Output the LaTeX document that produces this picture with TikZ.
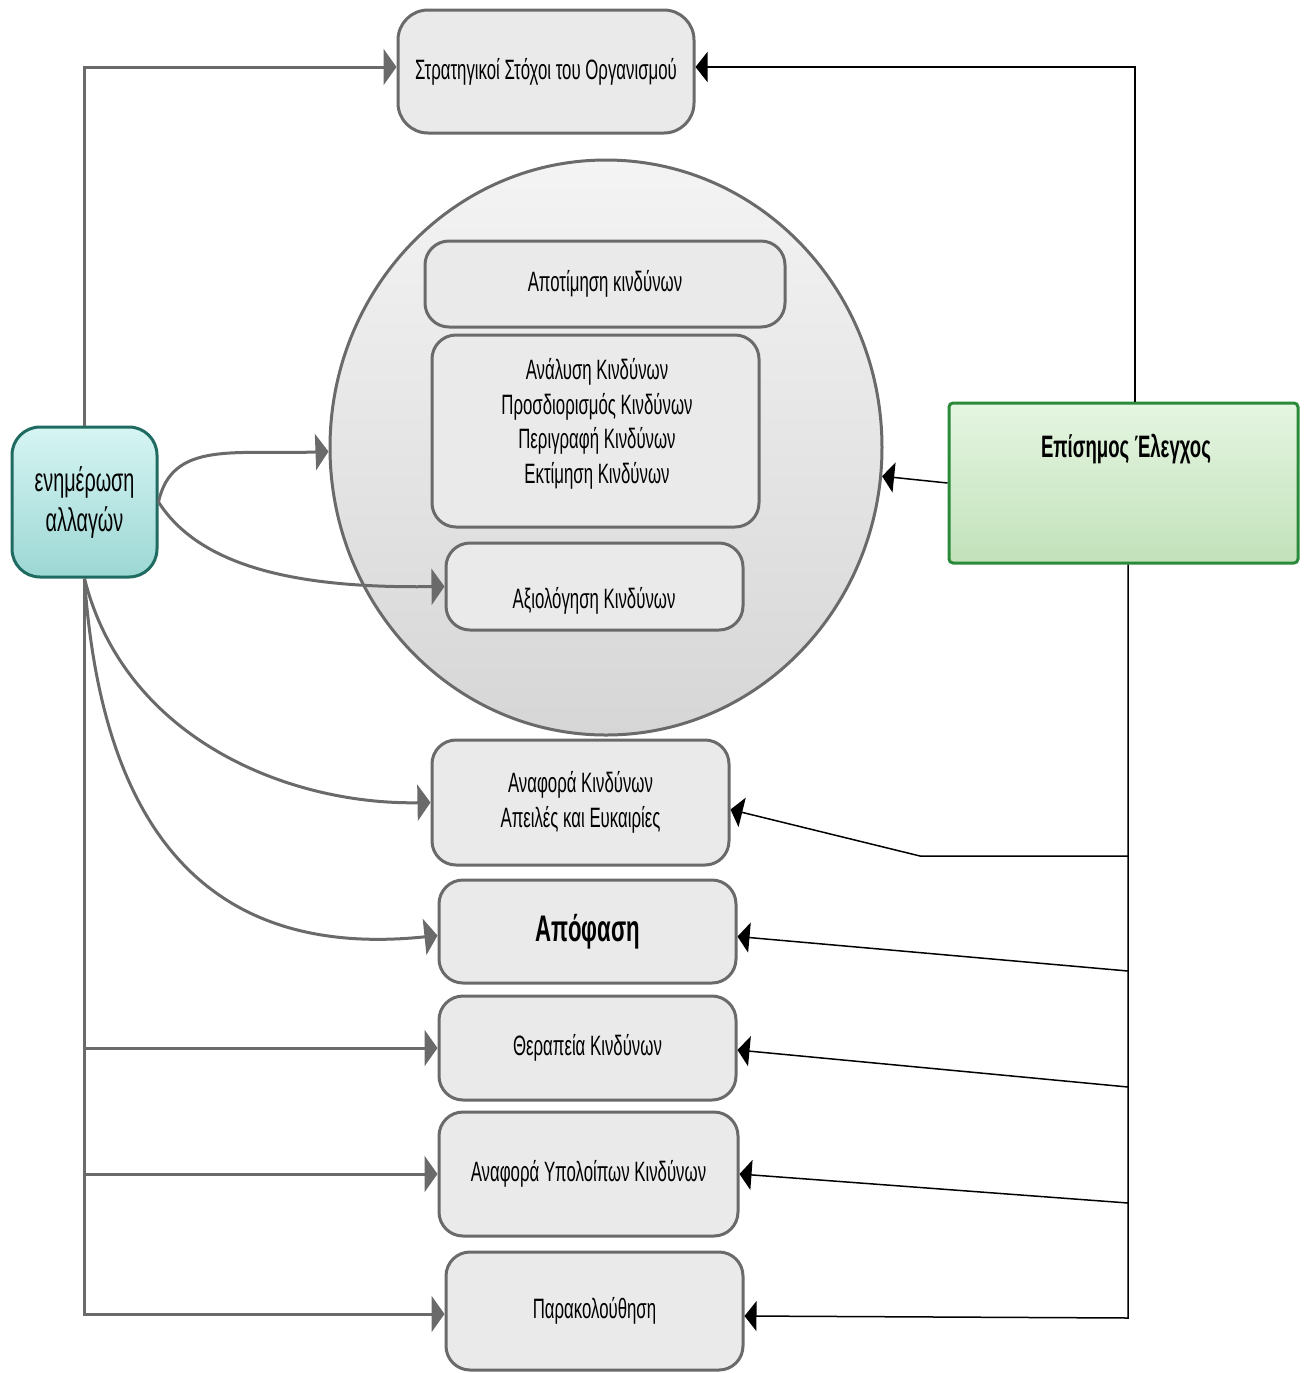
\documentclass[tikz,border=0pt]{standalone}
\usepackage{fontspec}
\setmainfont[FakeStretch=0.6]{Liberation Sans}
\usetikzlibrary{arrows.meta,shapes.geometric,calc}
\definecolor{boxfill}{HTML}{EAEAEA}
\definecolor{boxline}{HTML}{6A6A6A}
\definecolor{circtop}{HTML}{F4F4F4}
\definecolor{circbot}{HTML}{D6D6D6}
\definecolor{tealtop}{HTML}{D6F5F3}
\definecolor{tealbot}{HTML}{9CD7D4}
\definecolor{tealline}{HTML}{1F6B61}
\definecolor{greentop}{HTML}{E5F5E1}
\definecolor{greenbot}{HTML}{C2E2BA}
\definecolor{greenline}{HTML}{2A8A3A}
\begin{document}
\begin{tikzpicture}[x=0.5pt,y=-0.5pt,
  gbox/.style={draw=boxline, line width=1.5pt, fill=boxfill, rounded corners=12pt,
    align=center, font=\fontsize{14}{17.25}\selectfont, inner sep=0pt},
  txt/.style={align=center, font=\fontsize{14}{17.25}\selectfont, inner sep=0pt},
  garrow/.style={draw=boxline, line width=1.5pt, -{Triangle[length=6.5pt,width=18pt]}},
  barrow/.style={draw=black, line width=0.75pt, -{Triangle[length=6pt,width=15pt]}},
]
\useasboundingbox (0,0) rectangle (1307,1373);

% nodes
\node[gbox, rounded corners=15pt, minimum width=148pt, minimum height=61.5pt] (goals) at (546,71.5)
  {\raisebox{2pt}{Στρατηγικοί Στόχοι του Οργανισμού}};
\node[ellipse, draw=boxline, line width=1.5pt, top color=circtop, bottom color=circbot,
  minimum width=276pt, minimum height=287.5pt, inner sep=0pt] (circ) at (606,447.5) {};
\node[gbox, minimum width=180pt, minimum height=43pt] (assess) at (605,284) {Αποτίμηση κινδύνων};
\node[gbox, minimum width=163.5pt, minimum height=96pt] (analysis) at (595.5,431) {};
\node[txt] (analysistext) at (597,424) {Ανάλυση Κινδύνων\\Προσδιορισμός Κινδύνων\\Περιγραφή Κινδύνων\\Εκτίμηση Κινδύνων};
\node[gbox, minimum width=148.5pt, minimum height=43.5pt] (evaluate) at (594.5,586.5) {};
\node[txt] (evaltext) at (594,601) {Αξιολόγηση Κινδύνων};

\node[draw=tealline, line width=1.5pt, top color=tealtop, bottom color=tealbot, rounded corners=14pt,
  minimum width=72.5pt, minimum height=75pt, inner sep=0pt, align=center,
  font=\fontsize{16.5}{20}\selectfont] (update) at (84.5,502) {ενημέρωση\\αλλαγών};

\node[draw=greenline, line width=1.5pt, top color=greentop, bottom color=greenbot, rounded corners=2pt,
  minimum width=174.5pt, minimum height=80pt, inner sep=0pt] (control) at (1123.5,483) {};
\node[txt, font=\bfseries\fontsize{15.5}{18}\selectfont] (controltext) at (1126,449) {Επίσημος Έλεγχος};

\node[gbox, minimum width=148.5pt, minimum height=62.5pt] (report) at (580.5,802.5) {Αναφορά Κινδύνων\\Απειλές και Ευκαιρίες};
\node[gbox, minimum width=148.5pt, minimum height=51.5pt, font=\bfseries\fontsize{18.5}{22}\selectfont] (decision) at (587.5,931.5) {Απόφαση};
\node[gbox, minimum width=148.5pt, minimum height=52pt] (treat) at (587.5,1048) {Θεραπεία Κινδύνων};
\node[gbox, minimum width=149.5pt, minimum height=62pt] (residual) at (588.5,1174) {Αναφορά Υπολοίπων Κινδύνων};
\node[gbox, minimum width=148.5pt, minimum height=59pt] (monitor) at (594.5,1311) {Παρακολούθηση};

% gray connectors from update
\coordinate (gw) at ([yshift=2.25pt]goals.west);
\coordinate (ge) at ([yshift=2.25pt]goals.east);
\draw[garrow] (update.north) |- (gw);
\draw[garrow] (update.south) |- ([yshift=-1.5pt]monitor.west);
\draw[garrow] (update.south |- treat.west) -- (treat.west);
\draw[garrow] (update.south |- residual.west) -- (residual.west);
\draw[garrow] (update.east) .. controls (172,440) and (235,455) .. ([yshift=-2pt]circ.west);
\draw[garrow] (update.east) .. controls (205,575) and (320,588) .. (evaluate.west);
\draw[garrow] (update.south) .. controls (125,740) and (290,805) .. (report.west);
\draw[garrow] (update.south) .. controls (105,880) and (250,955) .. ([yshift=-2pt]decision.west);

% black connectors from control
\coordinate (ctop) at ([xshift=5.75pt]control.north);
\coordinate (cbot) at ([xshift=2.25pt]control.south);
\coordinate (j1) at (cbot |- 0,856);
\coordinate (k1) at (920,856);
\coordinate (j2) at (cbot |- 0,971);
\coordinate (j3) at (cbot |- 0,1087);
\coordinate (j4) at (cbot |- 0,1203);
\coordinate (j5) at (cbot |- 0,1318);
\draw[barrow] (ctop) |- (ge);
\draw[barrow] (control.west) -- (circ);
\draw[barrow] (cbot) -- (j5) -- ([yshift=-2.5pt]monitor.east);
\draw[barrow] (j1) -- (k1) -- ([yshift=-3.5pt]report.east);
\draw[barrow] (j2) -- ([yshift=-2.5pt]decision.east);
\draw[barrow] (j3) -- ([yshift=-1pt]treat.east);
\draw[barrow] (j4) -- (residual.east);
\end{tikzpicture}
\end{document}
